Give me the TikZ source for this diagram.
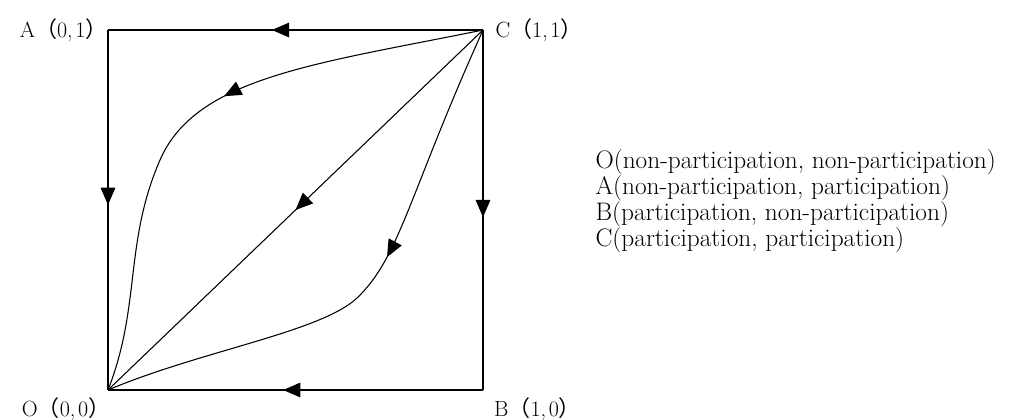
\documentclass[tikz,border=0pt]{standalone}
\usepackage{fontspec}
\newfontfamily\cjkfont{Noto Sans CJK SC}
\usetikzlibrary{arrows.meta, positioning, decorations.markings}

% corner label: letter, then (x,y) in full-width brackets
\newcommand{\cornerlab}[3]{#1{\cjkfont （}#2,\kern2pt#3{\cjkfont ）}}

\begin{document}
\begin{tikzpicture}[
  x=0.75pt, y=-0.75pt,
  line width=0.8pt,
  corner/.style={font=\fontsize{16.5}{18}\selectfont, inner sep=0pt},
  legend/.style={font=\fontsize{19}{22}\selectfont, inner sep=0pt,
                 text height=12pt, text depth=4.5pt},
  flow/.style={postaction={decorate},
               decoration={markings, mark=at position #1 with
                 {\arrow{Triangle[length=13pt, width=11pt]}}}},
]
\useasboundingbox (0,0) rectangle (1016,419);

% corners of the square
\coordinate (A) at (108,30);
\coordinate (C) at (483,30);
\coordinate (O) at (108,390);
\coordinate (B) at (483,390);
% bends of the two curves
\coordinate (K1) at (160,160);
\coordinate (K2) at (357,298);

\node[corner, left=0pt of A]                   (labA) {\cornerlab{A}{0}{1}};
\node[corner, right=9pt of C]                  (labC) {\cornerlab{C}{1}{1}};
\node[corner, below left=5pt and -2pt of O]    (labO) {\cornerlab{O}{0}{0}};
\node[corner, below right=5pt and 8pt of B]    (labB) {\cornerlab{B}{1}{0}};

% legend
\node[legend, anchor=west] (legO) at (595,163) {O(non-participation, non-participation)};
\node[legend, below right=2.25pt and 0pt of legO.south west] (legA) {A(non-participation, participation)};
\node[legend, below right=2.25pt and 0pt of legA.south west] (legB) {B(participation, non-participation)};
\node[legend, below right=2.25pt and 0pt of legB.south west] (legC) {C(participation, participation)};

% edges of the square
\draw[flow=0.563] (C) -- (A);
\draw[flow=0.486] (A) -- (O);
\draw[flow=0.52]  (C) -- (B);
\draw[flow=0.533] (B) -- (O);
% diagonal and curves
\draw[flow=0.5] (C) -- (O);
\draw[flow=201pt] (C) .. controls (316,64) and (196,77) .. (K1)
                      .. controls (124,243) and (141,306) .. (O);
\draw[flow=185pt] (C) .. controls (409,194) and (400,257) .. (K2)
                      .. controls (321,332) and (200,351) .. (O);
\end{tikzpicture}
\end{document}
